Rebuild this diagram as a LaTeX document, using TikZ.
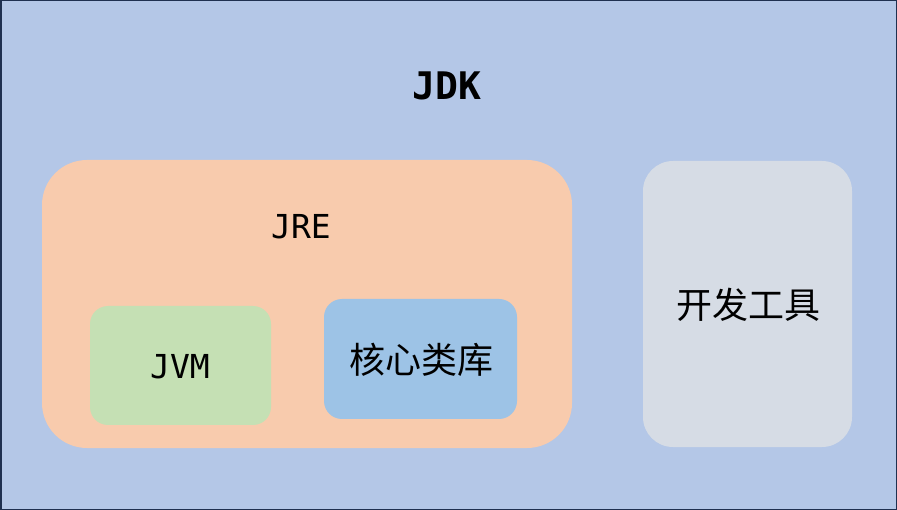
\documentclass[tikz,border=0pt]{standalone}
\usepackage{fontspec}
\setmonofont{DejaVu Sans Mono}
\newfontfamily\cjk{Noto Sans CJK SC}
\definecolor{bg}{HTML}{B4C7E7}
\definecolor{jre}{HTML}{F8CBAD}
\definecolor{jvm}{HTML}{C5E0B4}
\definecolor{lib}{HTML}{9DC3E6}
\definecolor{tool}{HTML}{D6DCE5}
\definecolor{edge}{HTML}{1F3050}
\begin{document}
\begin{tikzpicture}[x=1pt,y=-1pt,
  box/.style={draw=none,rounded corners=#1},
  mono/.style={font=\ttfamily\fontsize{33}{40}\selectfont},
  han/.style={font=\cjk\fontsize{36}{42}\selectfont}]
\useasboundingbox (0,0) rectangle (897,510);
\fill[bg,draw=edge,line width=1.5pt] (0.75,0.75) rectangle (896.25,509.25);
\node[font=\ttfamily\bfseries\fontsize{38}{44}\selectfont] (jdk) at (447,86) {JDK};
\fill[jre,box=45pt] (42,160) rectangle (572,448);
\node[mono] (jre) at (301,227) {JRE};
\fill[jvm,box=18pt] (90,306) rectangle (271,425);
\node[mono] (jvm) at (180,367) {JVM};
\fill[lib,box=18pt] (324,299) rectangle (517,419);
\node[han] (lib) at (421,360) {核心类库};
\fill[tool,box=30pt] (643,161) rectangle (852,447);
\node[han] (tool) at (748,305) {开发工具};
\end{tikzpicture}
\end{document}
